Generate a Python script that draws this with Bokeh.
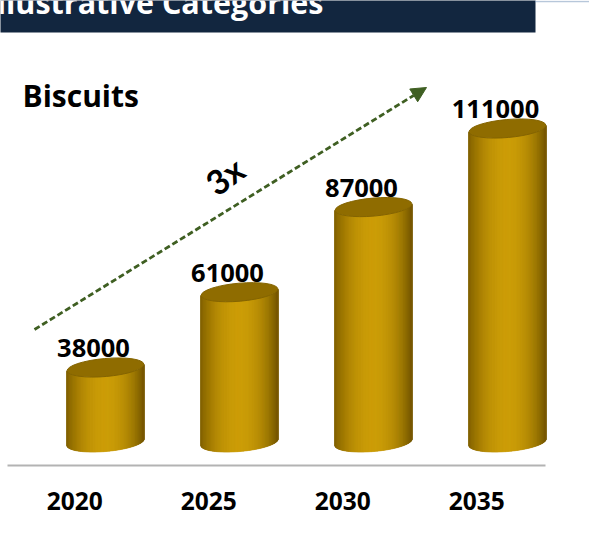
import numpy as np
from bokeh.plotting import figure
from bokeh.models import Arrow, NormalHead, FixedTicker
from bokeh.core.properties import value
from bokeh.embed import file_html
from bokeh.resources import INLINE

years = [2020, 2025, 2030, 2035]
values = [38000, 61000, 87000, 111000]
title_text = "Biscuits"
header_text = "Illustrative Categories"
growth_text = "3x"

W, H, FRAME_H = 589, 540, 465
PX_PER_YEAR = 134 / 5
PX_PER_UNIT = (367 - 128) / (111000 - 38000)
x0 = 2020 - 105 / PX_PER_YEAR
y_bottom = 38000 - (FRAME_H - 367) / PX_PER_UNIT
BASE = 38000 - (442 - 367) / PX_PER_UNIT


def dx(px):
    return float(x0 + px / PX_PER_YEAR)


def dy(py):
    return float(y_bottom + (FRAME_H - py) / PX_PER_UNIT)


p = figure(width=W, height=H, output_backend="svg", toolbar_location=None,
           x_range=(dx(0), dx(W)), y_range=(dy(FRAME_H), dy(0)),
           min_border_left=0, min_border_right=0, min_border_top=0, min_border_bottom=H - FRAME_H)
p.outline_line_color = None
p.grid.visible = False
p.yaxis.visible = False
p.background_fill_color = "white"

ax = p.xaxis[0]
label_shift = 30.7 / PX_PER_YEAR
ticks = [y - label_shift for y in years]
ax.ticker = FixedTicker(ticks=ticks)
ax.major_label_overrides = {t: str(y) for t, y in zip(ticks, years)}
ax.bounds = (dx(7), dx(545))
ax.axis_line_color = "#b3b3b3"
ax.axis_line_width = 2
ax.major_tick_line_color = None
ax.minor_tick_line_color = None
ax.major_label_standoff = 20
ax.major_label_text_font = "Open Sans"
ax.major_label_text_font_size = "24.5px"
ax.major_label_text_font_style = "bold"
ax.major_label_text_color = "#000000"

# header band
p.quad(left=[dx(-4)], right=[dx(535)], bottom=[dy(32)], top=[dy(-4)], fill_color="#12263f", line_color=None)
p.line([dx(535), dx(589)], [dy(1)] * 2, line_color="#6f8fb5", line_width=1.5, line_dash="1 1")
p.text([dx(323)], [dy(1)], text=[header_text], text_align="right", text_baseline="middle",
       text_color="white", text_font=value("Open Sans"), text_font_style="bold", text_font_size="30.5px")

# cylinders
A, B, TILT = 38.5, 9, np.radians(5)
t0 = np.arctan(-(B / A) * np.tan(TILT))
ts = np.linspace(t0, t0 + np.pi, 160)
ex = A * np.cos(ts) * np.cos(TILT) - B * np.sin(ts) * np.sin(TILT)
ey = A * np.cos(ts) * np.sin(TILT) + B * np.sin(ts) * np.cos(TILT)
if ey.mean() > 0:
    ts = ts - np.pi
    ex = A * np.cos(ts) * np.cos(TILT) - B * np.sin(ts) * np.sin(TILT)
    ey = A * np.cos(ts) * np.sin(TILT) + B * np.sin(ts) * np.cos(TILT)

dark_l = np.array([0x84, 0x63, 0x00])
dark_r = np.array([0x78, 0x5a, 0x00])
light = np.array([0xcb, 0x9b, 0x00])


def shade(u):
    edge = dark_l if u < 0 else dark_r
    k = min(1.0, abs(u)) ** 2
    c = light * (1 - k) + edge * k
    return "#%02x%02x%02x" % tuple(int(round(v)) for v in c)


for yr, val in zip(years, values):
    xs, ys, cols = [], [], []
    for i in range(len(ex) - 1):
        xa, xb = ex[i] / PX_PER_YEAR, ex[i + 1] / PX_PER_YEAR
        ya, yb = ey[i] / PX_PER_UNIT, ey[i + 1] / PX_PER_UNIT
        xs.append([yr + xa, yr + xb, yr + xb, yr + xa])
        ys.append([BASE + ya, BASE + yb, val + yb, val + ya])
        cols.append(shade((ex[i] + ex[i + 1]) / 2 / A))
    p.patches(xs, ys, fill_color=cols, line_color=cols, line_width=0.6)
    p.ellipse([yr], [val], width=2 * A, height=2 * B, angle=TILT, width_units="screen", height_units="screen",
              fill_color="#8f6c00", line_color="#846400", line_width=1)

# value labels
p.text(years, values, text=[str(v) for v in values], x_offset=-12, y_offset=-19.5, text_align="center",
       text_baseline="middle", text_color="#000000", text_font=value("Open Sans"), text_font_style="bold",
       text_font_size="25.5px")

# title and growth note
p.text([dx(22)], [dy(95)], text=[title_text], text_align="left", text_baseline="middle",
       text_color="#000000", text_font=value("Open Sans"), text_font_style="bold", text_font_size="30px")
p.text([dx(224)], [dy(175)], text=[growth_text], angle=np.radians(36), text_align="center",
       text_baseline="middle", text_color="#000000", text_font=value("Lato"), text_font_style="bold",
       text_font_size="34px")

p.add_layout(Arrow(end=NormalHead(size=15, fill_color="#3f5f22", line_color="#3f5f22"),
                   x_start=dx(34), y_start=dy(329), x_end=dx(426), y_end=dy(87),
                   line_color="#3f5f22", line_width=2.8, line_dash="6 3"))

open("out.html", "w").write(file_html(p, INLINE))
